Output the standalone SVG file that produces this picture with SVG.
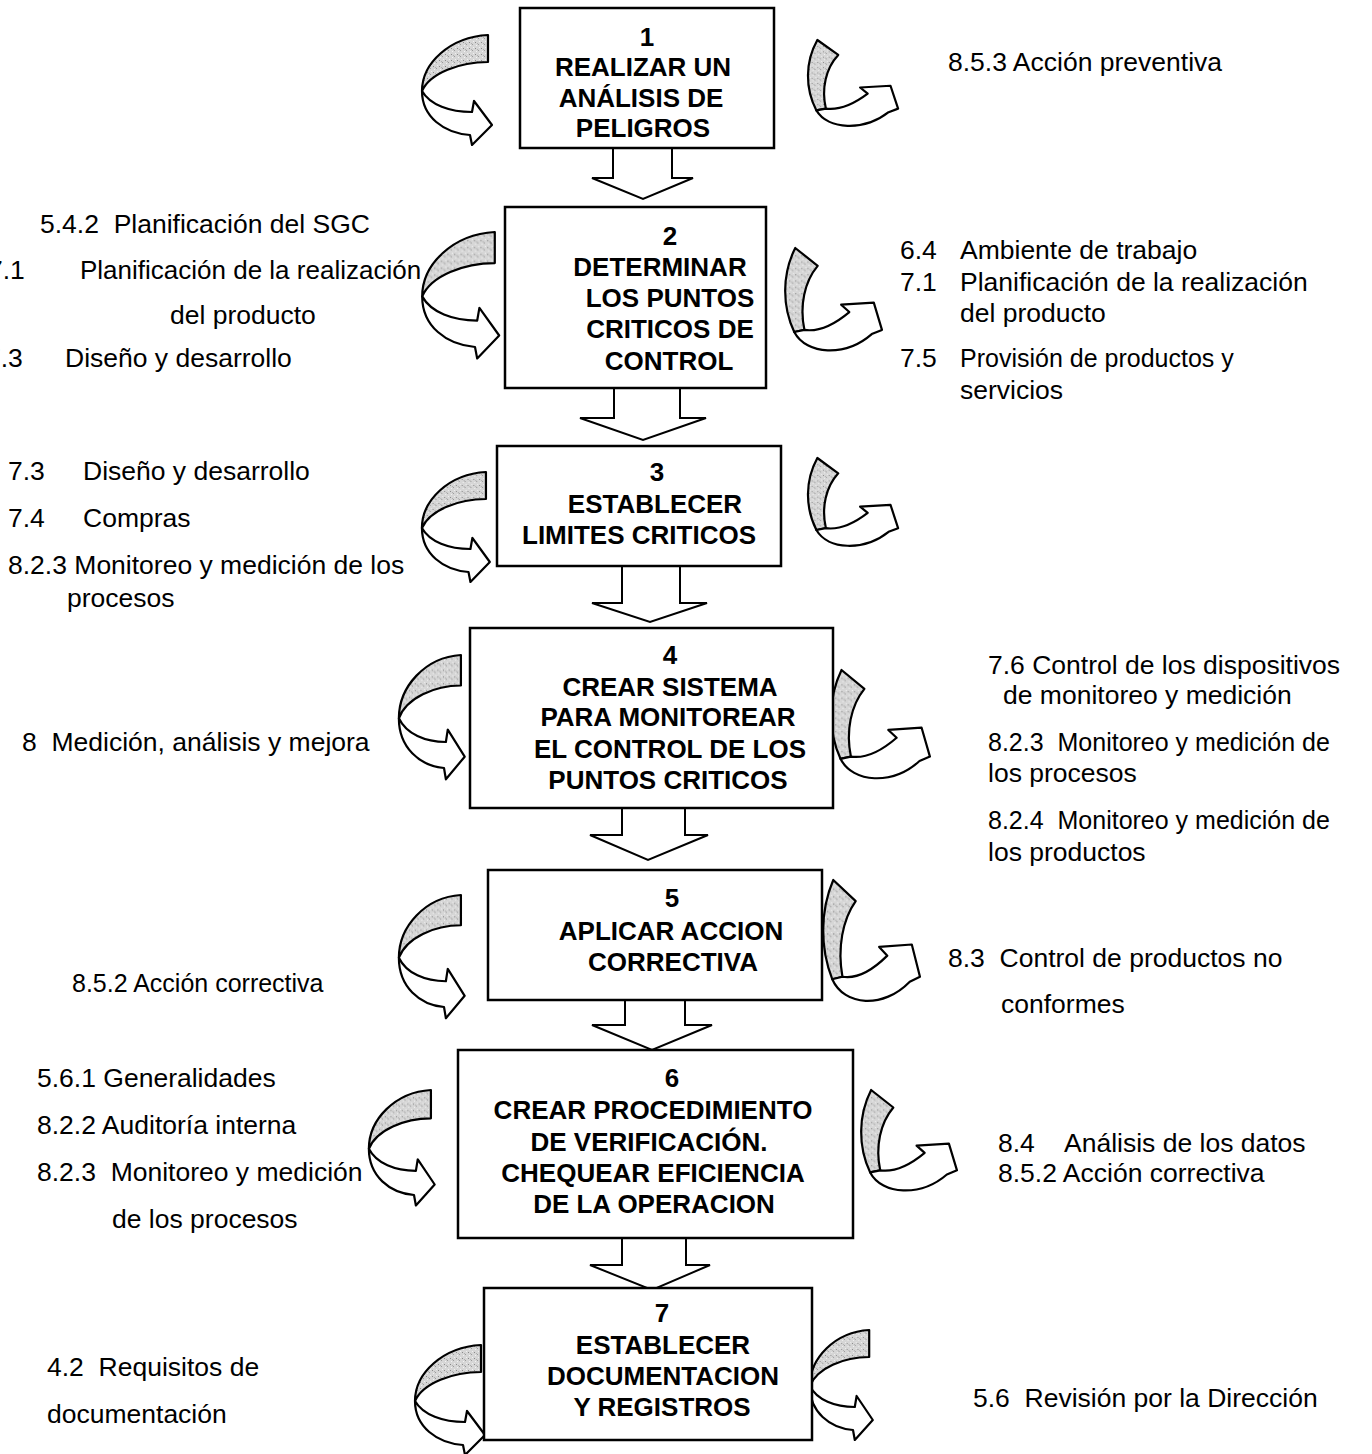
<svg xmlns="http://www.w3.org/2000/svg" xmlns:xlink="http://www.w3.org/1999/xlink" width="1372" height="1454" viewBox="0 0 1372 1454">
  <style>
    .box { fill: #fff; stroke: #000; stroke-width: 2.5; }
    .down { fill: #fff; stroke: #000; stroke-width: 2; stroke-linejoin: miter; }
    .face { fill: #fff; stroke: #000; stroke-width: 2.2; stroke-linejoin: round; vector-effect: non-scaling-stroke; }
    .back { fill: url(#stipple); stroke: #000; stroke-width: 2.2; stroke-linejoin: round; vector-effect: non-scaling-stroke; }
    .t { font-family: "Liberation Sans", Arial, sans-serif; font-size: 26.5px; fill: #000; white-space: pre; }
    .s { font-size: 25px; }
    .b { font-family: "Liberation Sans", Arial, sans-serif; font-size: 26px; font-weight: bold; fill: #000; text-anchor: middle; }
  </style>
  <defs>
    <!-- grainy grey fill for the back face of the ribbon arrows -->
    <pattern id="stipple" width="6" height="6" patternUnits="userSpaceOnUse">
      <rect width="6" height="6" fill="#d6d6d6"/>
      <rect x="1" y="1" width="1" height="1" fill="#8a8a8a"/>
      <rect x="4" y="3" width="1" height="1" fill="#9a9a9a"/>
      <rect x="2" y="4" width="1" height="1" fill="#f2f2f2"/>
      <rect x="5" y="0" width="1" height="1" fill="#f0f0f0"/>
      <rect x="3" y="2" width="1" height="1" fill="#b0b0b0"/>
    </pattern>
    <!-- ribbon arrow that turns back and points right (frame 72 x 110) -->
    <g id="uturn">
      <path class="back" d="M68,0 C30,2 2,28 2,56 C10,38 40,27 68,27 Z"/>
      <path class="face" d="M2,56 C2,82 24,98 50,100 L52,110 L72,90 L54,66 L52,77 C30,77 10,70 2,56 Z"/>
    </g>
    <!-- ribbon arrow that drops down then sweeps up to the right (frame 98 x 97) -->
    <g id="hook">
      <path class="back" d="M13,0 L35,17 C22,32 17,55 22,78 L12,80 C0,55 0,25 13,0 Z"/>
      <path class="face" d="M12,80 C24,102 62,104 88,82 L98,78 L90,52 L58,54 L66,61 C50,74 36,80 22,78 Z"/>
    </g>
  </defs>

  <!-- connectors: block arrows between steps and side ribbon arrows -->
  <g id="connectors">
    <path class="down" d="M613,148 L613,178 L592,178 L643,199 L693,178 L672,178 L672,148"/>
    <path class="down" d="M614,388 L614,418 L580,418 L643,440 L706,418 L680,418 L680,388"/>
    <path class="down" d="M622,566 L622,603 L592,603 L650,622 L707,603 L680,603 L680,566"/>
    <path class="down" d="M622,808 L622,835 L590,835 L648,860 L708,835 L685,835 L685,808"/>
    <path class="down" d="M625,1000 L625,1025 L592,1025 L652,1050 L712,1025 L685,1025 L685,1000"/>
    <path class="down" d="M622,1238 L622,1265 L590,1265 L652,1290 L710,1265 L686,1265 L686,1238"/>

    <use xlink:href="#uturn" transform="translate(420,35) scale(1,1)"/>
    <use xlink:href="#uturn" transform="translate(420,232) scale(1.1,1.15)"/>
    <use xlink:href="#uturn" transform="translate(420,472) scale(0.97,1)"/>
    <use xlink:href="#uturn" transform="translate(397,655) scale(0.94,1.13)"/>
    <use xlink:href="#uturn" transform="translate(397,895) scale(0.94,1.12)"/>
    <use xlink:href="#uturn" transform="translate(367,1090) scale(0.94,1.05)"/>
    <use xlink:href="#uturn" transform="translate(413,1345) scale(1,1)"/>
    <use xlink:href="#uturn" transform="translate(808,1330) scale(0.9,1)"/>

    <use xlink:href="#hook" transform="translate(805,40) scale(0.95,0.88)"/>
    <use xlink:href="#hook" transform="translate(782,248) scale(1.02,1.05)"/>
    <use xlink:href="#hook" transform="translate(805,458) scale(0.95,0.9)"/>
    <use xlink:href="#hook" transform="translate(828,670) scale(1.04,1.11)"/>
    <use xlink:href="#hook" transform="translate(820,880) scale(1.02,1.24)"/>
    <use xlink:href="#hook" transform="translate(858,1090) scale(1.01,1.03)"/>
  </g>

  <!-- process steps -->
  <g id="step1">
    <rect class="box" x="520" y="8" width="254" height="140"/>
    <text class="b" x="647" y="46">1</text>
    <text class="b" x="643" y="76">REALIZAR UN</text>
    <text class="b" x="641" y="107">ANÁLISIS DE</text>
    <text class="b" x="643" y="137">PELIGROS</text>
  </g>
  <g id="step2">
    <rect class="box" x="505" y="207" width="261" height="181"/>
    <text class="b" x="670" y="245">2</text>
    <text class="b" x="660" y="276">DETERMINAR</text>
    <text class="b" x="670" y="307">LOS PUNTOS</text>
    <text class="b" x="670" y="338">CRITICOS DE</text>
    <text class="b" x="669" y="370">CONTROL</text>
  </g>
  <g id="step3">
    <rect class="box" x="497" y="446" width="284" height="120"/>
    <text class="b" x="657" y="481">3</text>
    <text class="b" x="655" y="513">ESTABLECER</text>
    <text class="b" x="639" y="544">LIMITES CRITICOS</text>
  </g>
  <g id="step4">
    <rect class="box" x="470" y="628" width="363" height="180"/>
    <text class="b" x="670" y="664">4</text>
    <text class="b" x="670" y="696">CREAR SISTEMA</text>
    <text class="b" x="668" y="726">PARA MONITOREAR</text>
    <text class="b" x="670" y="758">EL CONTROL DE LOS</text>
    <text class="b" x="668" y="789">PUNTOS CRITICOS</text>
  </g>
  <g id="step5">
    <rect class="box" x="488" y="870" width="334" height="130"/>
    <text class="b" x="672" y="907">5</text>
    <text class="b" x="671" y="940">APLICAR ACCION</text>
    <text class="b" x="673" y="971">CORRECTIVA</text>
  </g>
  <g id="step6">
    <rect class="box" x="458" y="1050" width="395" height="188"/>
    <text class="b" x="672" y="1087">6</text>
    <text class="b" x="653" y="1119">CREAR PROCEDIMIENTO</text>
    <text class="b" x="649" y="1151">DE VERIFICACIÓN.</text>
    <text class="b" x="653" y="1182">CHEQUEAR EFICIENCIA</text>
    <text class="b" x="654" y="1213">DE LA OPERACION</text>
  </g>
  <g id="step7">
    <rect class="box" x="484" y="1288" width="328" height="152"/>
    <text class="b" x="662" y="1322">7</text>
    <text class="b" x="663" y="1354">ESTABLECER</text>
    <text class="b" x="663" y="1385">DOCUMENTACION</text>
    <text class="b" x="662" y="1416">Y REGISTROS</text>
  </g>

  <!-- requirement references, left column -->
  <g id="refs-left" xml:space="preserve">
    <text class="t" x="40" y="233">5.4.2  Planificación del SGC</text>
    <text class="t" y="279"><tspan x="-12">7.1</tspan><tspan x="80" style="font-size:26px">Planificación de la realización</tspan></text>
    <text class="t" x="170" y="324">del producto</text>
    <text class="t" y="367"><tspan x="-14">7.3</tspan><tspan x="65">Diseño y desarrollo</tspan></text>
    <text class="t" y="480"><tspan x="8">7.3</tspan><tspan x="83">Diseño y desarrollo</tspan></text>
    <text class="t" y="527"><tspan x="8">7.4</tspan><tspan x="83">Compras</tspan></text>
    <text class="t" x="8" y="574">8.2.3 Monitoreo y medición de los</text>
    <text class="t" x="67" y="607">procesos</text>
    <text class="t" x="22" y="751">8  Medición, análisis y mejora</text>
    <text class="t s" x="72" y="992">8.5.2 Acción correctiva</text>
    <text class="t" x="37" y="1087">5.6.1 Generalidades</text>
    <text class="t" x="37" y="1134">8.2.2 Auditoría interna</text>
    <text class="t" x="37" y="1181">8.2.3  Monitoreo y medición</text>
    <text class="t" x="112" y="1228">de los procesos</text>
    <text class="t" x="47" y="1376">4.2  Requisitos de</text>
    <text class="t" x="47" y="1423">documentación</text>
  </g>

  <!-- requirement references, right column -->
  <g id="refs-right" xml:space="preserve">
    <text class="t" x="948" y="71">8.5.3 Acción preventiva</text>
    <text class="t" y="259"><tspan x="900">6.4</tspan><tspan x="960">Ambiente de trabajo</tspan></text>
    <text class="t" y="291"><tspan x="900">7.1</tspan><tspan x="960">Planificación de la realización</tspan></text>
    <text class="t" x="960" y="322">del producto</text>
    <text class="t" y="367"><tspan x="900">7.5</tspan><tspan x="960" style="font-size:25px">Provisión de productos y</tspan></text>
    <text class="t" x="960" y="399">servicios</text>
    <text class="t" x="988" y="674">7.6 Control de los dispositivos</text>
    <text class="t" x="1003" y="704">de monitoreo y medición</text>
    <text class="t s" x="988" y="751">8.2.3  Monitoreo y medición de</text>
    <text class="t" x="988" y="782">los procesos</text>
    <text class="t s" x="988" y="829">8.2.4  Monitoreo y medición de</text>
    <text class="t" x="988" y="861">los productos</text>
    <text class="t" x="948" y="967">8.3  Control de productos no</text>
    <text class="t" x="1001" y="1013">conformes</text>
    <text class="t" y="1152"><tspan x="998">8.4</tspan><tspan x="1064">Análisis de los datos</tspan></text>
    <text class="t" x="998" y="1182">8.5.2 Acción correctiva</text>
    <text class="t" x="973" y="1407">5.6  Revisión por la Dirección</text>
  </g>
</svg>
